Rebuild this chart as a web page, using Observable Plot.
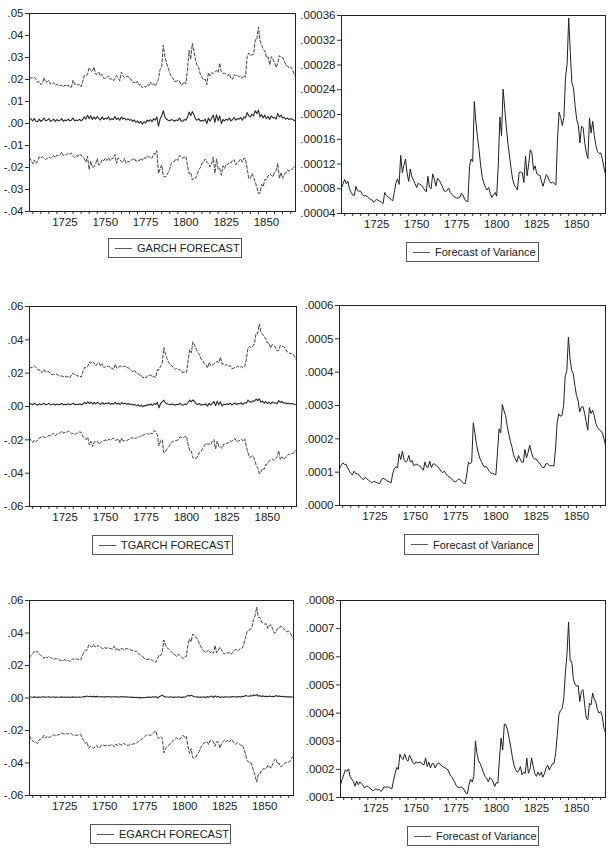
<!DOCTYPE html>
<html><head><meta charset="utf-8">
<script src="https://cdn.jsdelivr.net/npm/d3@7"></script>
<script src="https://cdn.jsdelivr.net/npm/@observablehq/plot@0.6"></script>
<style>
html,body{margin:0;padding:0;background:#fff;}
#page{position:relative;width:609px;height:857px;overflow:hidden;background:#fff;font-family:"Liberation Sans",Arial,sans-serif;}
#page svg{position:absolute;overflow:visible;}
.legend{position:absolute;box-sizing:border-box;border:1px solid #555;background:#fff;font-size:11px;color:#222;display:flex;align-items:center;white-space:nowrap;}
.legend .sw{display:inline-block;width:17px;height:1px;background:#555;margin:0 5px 0 6px;}
</style></head><body><div id="page"></div><script>
// ---------- data (annual, 1703–1868) ----------
const startYear = 1703, endYear = 1868;
const minorTicks = [1705,1710,1715,1720,1725,1730,1735,1740,1745,1750,1755,1760,1765,1770,1775,1780,1785,1790,1795,1800,1805,1810,1815,1820,1825,1830,1835,1840,1845,1850,1855,1860,1865];
const yearLabels = [1725,1750,1775,1800,1825,1850];

// mean forecasts
const garchMean = [
2.5e-3,2.0e-3,1.2e-3,2.2e-3,1.0e-3,0.8e-3,2.0e-3,1.0e-3,1.5e-3,2.5e-3,
1.2e-3,1.5e-3,2.2e-3,1.0e-3,1.4e-3,2.0e-3,1.0e-3,1.8e-3,1.2e-3,1.5e-3,
2.2e-3,1.0e-3,1.6e-3,1.3e-3,2.0e-3,1.2e-3,1.5e-3,2.5e-3,1.2e-3,1.6e-3,
1.3e-3,2.0e-3,1.2e-3,1.8e-3,3.0e-3,2.0e-3,3.8e-3,2.2e-3,3.5e-3,1.8e-3,
3.0e-3,2.0e-3,3.2e-3,2.2e-3,1.6e-3,3.0e-3,1.8e-3,2.4e-3,2.0e-3,3.0e-3,
1.6e-3,2.2e-3,1.8e-3,3.2e-3,1.8e-3,2.6e-3,1.5e-3,3.0e-3,2.0e-3,2.5e-3,
1.6e-3,2.2e-3,1.5e-3,1.8e-3,1.0e-3,1.6e-3,0.5e-3,1.2e-3,0.2e-3,1.0e-3,
-0.3e-3,0.8e-3,0.3e-3,1.5e-3,1.0e-3,1.8e-3,0.8e-3,2.2e-3,1.5e-3,3.0e-3,
-1.2e-3,2.0e-3,3.5e-3,5.8e-3,3.0e-3,2.0e-3,1.5e-3,1.2e-3,1.8e-3,1.5e-3,
1.0e-3,1.6e-3,1.3e-3,2.5e-3,1.2e-3,1.0e-3,1.8e-3,1.5e-3,2.8e-3,5.2e-3,
3.5e-3,5.4e-3,4.0e-3,2.0e-3,1.5e-3,2.2e-3,1.0e-3,1.5e-3,1.2e-3,2.0e-3,
0.0,2.5e-3,1.0e-3,2.5e-3,3.8e-3,0.5e-3,4.0e-3,1.2e-3,3.5e-3,0.0,
1.8e-3,1.2e-3,2.0e-3,1.5e-3,2.5e-3,1.2e-3,1.8e-3,2.8e-3,1.5e-3,2.2e-3,
2.0e-3,2.8e-3,1.5e-3,3.0e-3,2.5e-3,5.0e-3,3.5e-3,3.0e-3,4.2e-3,3.5e-3,
5.8e-3,4.5e-3,6.0e-3,3.0e-3,4.0e-3,2.5e-3,3.8e-3,2.2e-3,3.2e-3,1.8e-3,
3.5e-3,2.5e-3,2.8e-3,2.0e-3,4.6e-3,3.0e-3,3.8e-3,2.5e-3,2.8e-3,2.0e-3,
2.5e-3,1.8e-3,2.2e-3,2.0e-3,1.5e-3,1.2e-3];

const tgarchMean = [
2.0e-3,1.5e-3,1.0e-3,2.0e-3,1.2e-3,0.8e-3,1.6e-3,1.0e-3,1.4e-3,2.0e-3,
1.0e-3,1.3e-3,1.8e-3,1.0e-3,1.2e-3,1.6e-3,0.9e-3,1.5e-3,1.0e-3,1.3e-3,
1.8e-3,1.0e-3,1.4e-3,1.1e-3,1.6e-3,1.0e-3,1.3e-3,2.0e-3,1.0e-3,1.4e-3,
1.1e-3,1.6e-3,1.0e-3,1.5e-3,2.5e-3,1.6e-3,2.8e-3,1.8e-3,2.6e-3,1.5e-3,
2.4e-3,1.6e-3,2.5e-3,1.8e-3,1.3e-3,2.4e-3,1.4e-3,2.0e-3,1.6e-3,2.4e-3,
1.3e-3,1.8e-3,1.5e-3,2.5e-3,1.4e-3,2.0e-3,1.2e-3,2.4e-3,1.6e-3,2.0e-3,
1.3e-3,1.8e-3,1.2e-3,1.5e-3,0.8e-3,1.3e-3,0.5e-3,1.0e-3,0.2e-3,0.8e-3,
-0.2e-3,0.6e-3,0.3e-3,1.2e-3,0.8e-3,1.5e-3,0.6e-3,1.8e-3,1.2e-3,2.5e-3,
-0.8e-3,1.8e-3,2.8e-3,3.8e-3,2.2e-3,1.6e-3,1.2e-3,1.0e-3,1.5e-3,1.2e-3,
0.8e-3,1.3e-3,1.0e-3,2.0e-3,1.0e-3,0.8e-3,1.5e-3,1.2e-3,2.4e-3,3.8e-3,
2.8e-3,4.0e-3,3.0e-3,1.6e-3,1.2e-3,1.8e-3,0.8e-3,1.2e-3,1.0e-3,1.6e-3,
0.2e-3,2.0e-3,0.8e-3,2.0e-3,3.0e-3,0.5e-3,3.2e-3,1.0e-3,2.8e-3,0.2e-3,
1.5e-3,1.0e-3,1.6e-3,1.2e-3,2.0e-3,1.0e-3,1.5e-3,2.2e-3,1.2e-3,1.8e-3,
1.6e-3,2.2e-3,1.2e-3,2.4e-3,2.0e-3,3.8e-3,2.8e-3,2.5e-3,3.4e-3,3.0e-3,
4.5e-3,3.6e-3,4.6e-3,2.5e-3,3.2e-3,2.0e-3,3.0e-3,1.8e-3,2.6e-3,1.5e-3,
2.8e-3,2.0e-3,2.2e-3,1.6e-3,3.6e-3,2.4e-3,3.0e-3,2.0e-3,2.2e-3,1.6e-3,
2.0e-3,1.5e-3,1.8e-3,1.6e-3,1.2e-3,1.0e-3];

const egarchMean = [
0.8e-3,0.6e-3,0.5e-3,0.7e-3,0.5e-3,0.4e-3,0.6e-3,0.5e-3,0.6e-3,0.7e-3,
0.5e-3,0.6e-3,0.7e-3,0.5e-3,0.6e-3,0.6e-3,0.4e-3,0.6e-3,0.5e-3,0.5e-3,
0.7e-3,0.5e-3,0.6e-3,0.5e-3,0.6e-3,0.4e-3,0.5e-3,0.7e-3,0.5e-3,0.6e-3,
0.5e-3,0.6e-3,0.5e-3,0.6e-3,0.9e-3,0.7e-3,1.2e-3,0.8e-3,1.1e-3,0.7e-3,
1.0e-3,0.7e-3,1.0e-3,0.8e-3,0.6e-3,0.9e-3,0.6e-3,0.8e-3,0.7e-3,0.9e-3,
0.6e-3,0.8e-3,0.6e-3,0.9e-3,0.6e-3,0.8e-3,0.5e-3,0.9e-3,0.7e-3,0.8e-3,
0.6e-3,0.7e-3,0.5e-3,0.6e-3,0.4e-3,0.5e-3,0.3e-3,0.5e-3,0.2e-3,0.4e-3,
0.1e-3,0.3e-3,0.2e-3,0.5e-3,0.4e-3,0.6e-3,0.3e-3,0.7e-3,0.5e-3,0.9e-3,
0.0,0.8e-3,1.2e-3,1.8e-3,1.0e-3,0.7e-3,0.6e-3,0.5e-3,0.7e-3,0.6e-3,
0.4e-3,0.6e-3,0.5e-3,0.8e-3,0.5e-3,0.4e-3,0.6e-3,0.5e-3,1.0e-3,1.6e-3,
1.2e-3,1.7e-3,1.3e-3,0.8e-3,0.6e-3,0.8e-3,0.4e-3,0.6e-3,0.5e-3,0.7e-3,
0.2e-3,0.9e-3,0.4e-3,0.9e-3,1.2e-3,0.3e-3,1.3e-3,0.5e-3,1.1e-3,0.2e-3,
0.7e-3,0.5e-3,0.7e-3,0.6e-3,0.8e-3,0.5e-3,0.7e-3,0.9e-3,0.6e-3,0.8e-3,
0.7e-3,0.9e-3,0.6e-3,1.0e-3,0.9e-3,1.5e-3,1.2e-3,1.1e-3,1.4e-3,1.2e-3,
1.8e-3,1.5e-3,2.0e-3,1.2e-3,1.4e-3,1.0e-3,1.3e-3,0.9e-3,1.1e-3,0.8e-3,
1.2e-3,0.9e-3,1.0e-3,0.8e-3,1.5e-3,1.0e-3,1.3e-3,0.9e-3,1.0e-3,0.8e-3,
0.9e-3,0.7e-3,0.8e-3,0.7e-3,0.6e-3,0.5e-3];

// conditional variance forecasts
const garchVar = [
8.1e-5,8.8e-5,9.5e-5,8.8e-5,9.2e-5,8.0e-5,7.4e-5,7.0e-5,6.9e-5,8.4e-5,
7.7e-5,7.6e-5,7.6e-5,7.1e-5,6.8e-5,6.9e-5,6.8e-5,6.5e-5,6.3e-5,6.2e-5,
5.8e-5,6.1e-5,6.3e-5,6.1e-5,6.0e-5,5.8e-5,5.6e-5,7.4e-5,6.9e-5,6.7e-5,
6.5e-5,6.3e-5,6.0e-5,7.4e-5,8.9e-5,9.6e-5,8.7e-5,13.4e-5,10.6e-5,11.8e-5,
12.8e-5,10.5e-5,9.2e-5,11.2e-5,9.9e-5,9.4e-5,8.8e-5,8.2e-5,8.9e-5,8.7e-5,
8.6e-5,8.2e-5,7.8e-5,7.5e-5,10.0e-5,8.3e-5,8.0e-5,10.4e-5,9.6e-5,8.4e-5,
9.7e-5,9.4e-5,8.9e-5,8.4e-5,7.7e-5,7.5e-5,7.8e-5,8.1e-5,7.4e-5,7.1e-5,
6.8e-5,6.6e-5,6.5e-5,6.5e-5,6.6e-5,7.3e-5,6.9e-5,6.3e-5,6.0e-5,5.9e-5,
11.6e-5,12.8e-5,12.4e-5,22.1e-5,18.8e-5,16.3e-5,14.2e-5,11.7e-5,9.8e-5,8.9e-5,
8.2e-5,7.8e-5,8.2e-5,7.2e-5,6.6e-5,7.0e-5,7.4e-5,6.8e-5,12.0e-5,19.6e-5,
16.6e-5,24.1e-5,21.0e-5,18.0e-5,15.4e-5,13.3e-5,11.2e-5,9.5e-5,8.6e-5,8.2e-5,
7.8e-5,10.6e-5,10.7e-5,10.6e-5,9.0e-5,13.3e-5,10.1e-5,12.0e-5,14.3e-5,13.8e-5,
11.0e-5,11.7e-5,10.5e-5,10.2e-5,10.2e-5,9.2e-5,8.4e-5,9.4e-5,10.3e-5,9.9e-5,
9.2e-5,8.9e-5,9.1e-5,8.8e-5,8.6e-5,16.0e-5,20.4e-5,19.5e-5,18.2e-5,19.5e-5,
26.0e-5,28.1e-5,35.6e-5,30.0e-5,25.1e-5,24.3e-5,21.4e-5,19.2e-5,18.3e-5,15.4e-5,
18.1e-5,17.9e-5,15.5e-5,13.8e-5,12.9e-5,19.4e-5,17.0e-5,18.9e-5,16.6e-5,15.0e-5,
14.0e-5,13.7e-5,13.8e-5,12.8e-5,11.5e-5,10.3e-5];

const tgarchVar = [
11.0e-5,12.0e-5,12.8e-5,12.3e-5,12.4e-5,11.3e-5,10.5e-5,9.6e-5,9.2e-5,10.3e-5,
9.6e-5,9.5e-5,9.2e-5,8.6e-5,8.0e-5,7.8e-5,8.5e-5,8.0e-5,7.6e-5,7.2e-5,
6.8e-5,7.2e-5,7.1e-5,6.9e-5,6.7e-5,6.6e-5,7.8e-5,8.2e-5,7.9e-5,7.6e-5,
7.3e-5,7.1e-5,6.8e-5,9.5e-5,11.0e-5,11.6e-5,11.3e-5,15.5e-5,13.8e-5,16.3e-5,
13.9e-5,13.0e-5,13.5e-5,15.0e-5,13.0e-5,13.5e-5,12.0e-5,12.2e-5,12.4e-5,12.0e-5,
11.8e-5,11.2e-5,10.6e-5,13.0e-5,11.5e-5,11.5e-5,13.3e-5,11.4e-5,12.5e-5,12.4e-5,
12.0e-5,11.7e-5,11.0e-5,10.2e-5,9.9e-5,10.3e-5,9.6e-5,9.0e-5,8.6e-5,8.2e-5,
7.7e-5,7.3e-5,7.1e-5,7.5e-5,8.0e-5,7.6e-5,7.2e-5,6.6e-5,6.6e-5,9.5e-5,
13.0e-5,12.5e-5,13.0e-5,24.8e-5,21.6e-5,18.3e-5,16.0e-5,14.2e-5,13.2e-5,12.2e-5,
11.5e-5,11.7e-5,11.0e-5,10.2e-5,9.6e-5,9.7e-5,9.4e-5,9.2e-5,16.0e-5,23.0e-5,
21.8e-5,30.3e-5,28.5e-5,27.0e-5,24.0e-5,21.5e-5,19.3e-5,17.5e-5,15.2e-5,14.0e-5,
13.0e-5,15.0e-5,14.0e-5,13.0e-5,13.0e-5,16.8e-5,14.3e-5,16.0e-5,18.1e-5,16.0e-5,
14.5e-5,13.9e-5,14.0e-5,13.2e-5,12.8e-5,12.0e-5,11.4e-5,11.4e-5,12.5e-5,12.6e-5,
12.0e-5,11.9e-5,12.0e-5,11.8e-5,17.0e-5,24.8e-5,27.5e-5,26.8e-5,27.0e-5,30.0e-5,
38.8e-5,40.4e-5,50.5e-5,44.0e-5,40.6e-5,39.5e-5,36.0e-5,33.0e-5,31.4e-5,28.1e-5,
29.5e-5,29.7e-5,27.8e-5,25.2e-5,22.6e-5,29.4e-5,27.6e-5,28.6e-5,27.0e-5,24.6e-5,
23.5e-5,22.8e-5,22.4e-5,21.8e-5,20.1e-5,18.1e-5];

const egarchVar = [
14.5e-5,16.5e-5,18.0e-5,19.8e-5,19.3e-5,20.2e-5,17.5e-5,16.6e-5,15.7e-5,14.0e-5,
15.8e-5,14.5e-5,15.5e-5,15.0e-5,14.3e-5,13.4e-5,14.0e-5,14.0e-5,13.4e-5,13.1e-5,
12.4e-5,12.6e-5,13.2e-5,12.6e-5,13.0e-5,12.2e-5,12.5e-5,13.8e-5,13.6e-5,13.8e-5,
13.7e-5,13.3e-5,13.1e-5,16.0e-5,18.5e-5,20.7e-5,20.0e-5,25.4e-5,24.0e-5,23.5e-5,
25.5e-5,23.6e-5,22.9e-5,25.0e-5,23.8e-5,22.4e-5,21.9e-5,22.7e-5,22.3e-5,22.6e-5,
22.5e-5,21.8e-5,21.6e-5,24.0e-5,21.0e-5,22.5e-5,20.5e-5,22.0e-5,22.0e-5,20.5e-5,
21.8e-5,22.2e-5,21.9e-5,21.2e-5,20.9e-5,20.6e-5,20.2e-5,19.8e-5,18.3e-5,17.5e-5,
16.6e-5,15.6e-5,14.3e-5,13.6e-5,13.5e-5,13.8e-5,13.5e-5,12.7e-5,11.6e-5,11.3e-5,
14.5e-5,16.5e-5,15.5e-5,17.5e-5,30.1e-5,25.5e-5,23.0e-5,22.0e-5,20.5e-5,18.8e-5,
17.5e-5,16.9e-5,15.6e-5,17.1e-5,16.5e-5,15.5e-5,13.9e-5,15.3e-5,15.1e-5,24.0e-5,
31.1e-5,26.9e-5,36.1e-5,35.8e-5,34.0e-5,31.0e-5,28.0e-5,24.3e-5,21.5e-5,20.0e-5,
19.0e-5,19.5e-5,21.0e-5,18.1e-5,19.0e-5,18.5e-5,24.0e-5,18.6e-5,20.0e-5,24.0e-5,
21.0e-5,18.5e-5,17.5e-5,19.0e-5,17.8e-5,19.0e-5,17.2e-5,18.5e-5,20.5e-5,21.5e-5,
19.8e-5,21.0e-5,22.0e-5,22.2e-5,26.0e-5,32.3e-5,39.5e-5,41.0e-5,41.5e-5,45.0e-5,
54.0e-5,60.7e-5,72.3e-5,58.6e-5,58.3e-5,52.0e-5,50.3e-5,49.5e-5,49.8e-5,44.1e-5,
47.7e-5,48.3e-5,43.2e-5,38.2e-5,37.6e-5,43.5e-5,42.9e-5,47.1e-5,45.0e-5,43.9e-5,
41.2e-5,40.0e-5,40.6e-5,38.8e-5,34.6e-5,33.0e-5];

// axis ticks
const garchFcTicks  = [-0.04,-0.03,-0.02,-0.01,0,0.01,0.02,0.03,0.04,0.05];
const garchVarTicks = [0.00004,0.00008,0.00012,0.00016,0.0002,0.00024,0.00028,0.00032,0.00036];
const tgarchFcTicks = [-0.06,-0.04,-0.02,0,0.02,0.04,0.06];
const tgarchVarTicks = [0,0.0001,0.0002,0.0003,0.0004,0.0005,0.0006];
const egarchFcTicks = [-0.06,-0.04,-0.02,0,0.02,0.04,0.06];
const egarchVarTicks = [0.0001,0.0002,0.0003,0.0004,0.0005,0.0006,0.0007,0.0008];
const legendLabels = ["GARCH FORECAST","Forecast of Variance","TGARCH FORECAST","Forecast of Variance","EGARCH FORECAST","Forecast of Variance"];

// ---------- drawing ----------
const page = document.getElementById("page");
const years = d3.range(startYear, endYear + 1);
const fmt = (v, d) => (Math.abs(v) < 1e-12 ? (0).toFixed(d) : v.toFixed(d)).replace(/^(-?)0\./, "$1.");

function drawPanel({frame, mL, yDomain, yTicks, dec, marks}) {
  const mT = 8, mR = 6, mB = 26;
  const w = frame[2] - frame[0], h = frame[3] - frame[1];
  const svg = Plot.plot({
    width: mL + w + mR, height: mT + h + mB,
    marginLeft: mL, marginRight: mR, marginTop: mT, marginBottom: mB,
    style: {fontFamily: '"Liberation Sans", Arial, sans-serif', fontSize: "11.5px", color: "#222", background: "none"},
    x: {domain: [startYear, endYear], label: null},
    y: {domain: yDomain, label: null},
    marks: [
      Plot.axisX({ticks: minorTicks, tickSize: 3, tickFormat: () => "", label: null, stroke: "#333"}),
      Plot.axisX({ticks: yearLabels, tickSize: 0, tickPadding: 6, tickFormat: d => String(d), label: null, fill: "#222"}),
      Plot.axisY({ticks: yTicks, tickSize: 4, tickPadding: 2, tickFormat: v => fmt(v, dec), label: null, stroke: "#333", fill: "#222"}),
      ...marks,
      Plot.frame({stroke: "#222", strokeWidth: 1})
    ]
  });
  svg.style.left = (frame[0] - mL) + "px";
  svg.style.top = (frame[1] - mT) + "px";
  page.appendChild(svg);
}

function forecastMarks(mean, variance) {
  const rows = years.map((year, i) => ({year, f: mean[i], up: mean[i] + 2 * Math.sqrt(variance[i]), lo: mean[i] - 2 * Math.sqrt(variance[i])}));
  return [
    Plot.lineY(rows, {x: "year", y: "up", stroke: "#444", strokeWidth: 1, strokeDasharray: "3,2"}),
    Plot.lineY(rows, {x: "year", y: "lo", stroke: "#444", strokeWidth: 1, strokeDasharray: "3,2"}),
    Plot.lineY(rows, {x: "year", y: "f", stroke: "#2a2a2a", strokeWidth: 1.1})
  ];
}
function varianceMarks(variance) {
  const rows = years.map((year, i) => ({year, v: variance[i]}));
  return [Plot.lineY(rows, {x: "year", y: "v", stroke: "#222", strokeWidth: 1})];
}
function legend(label, box) {
  const d = document.createElement("div");
  d.className = "legend";
  d.style.left = box[0] + "px"; d.style.top = box[1] + "px";
  d.style.width = box[2] + "px"; d.style.height = box[3] + "px";
  const sw = document.createElement("span"); sw.className = "sw";
  const t = document.createElement("span"); t.textContent = label;
  d.append(sw, t);
  page.appendChild(d);
}

drawPanel({frame: [29, 13, 295, 211], mL: 34, yDomain: [-0.04, 0.05], yTicks: garchFcTicks, dec: 2, marks: forecastMarks(garchMean, garchVar)});
drawPanel({frame: [341, 15, 605, 213], mL: 44, yDomain: [0.00004, 0.00036], yTicks: garchVarTicks, dec: 5, marks: varianceMarks(garchVar)});
drawPanel({frame: [29, 306, 296, 506], mL: 34, yDomain: [-0.06, 0.06], yTicks: tgarchFcTicks, dec: 2, marks: forecastMarks(tgarchMean, tgarchVar)});
drawPanel({frame: [339, 305, 605, 505], mL: 44, yDomain: [0, 0.0006], yTicks: tgarchVarTicks, dec: 4, marks: varianceMarks(tgarchVar)});
drawPanel({frame: [29, 600, 293, 795], mL: 34, yDomain: [-0.06, 0.06], yTicks: egarchFcTicks, dec: 2, marks: forecastMarks(egarchMean, egarchVar)});
drawPanel({frame: [340, 600, 605, 797], mL: 44, yDomain: [0.0001, 0.0008], yTicks: egarchVarTicks, dec: 4, marks: varianceMarks(egarchVar)});

legend(legendLabels[0], [108, 238, 134, 20]);
legend(legendLabels[1], [406, 242, 133, 20]);
legend(legendLabels[2], [92, 535, 141, 20]);
legend(legendLabels[3], [404, 534, 135, 21]);
legend(legendLabels[4], [90, 824, 141, 20]);
legend(legendLabels[5], [407, 826, 132, 20]);
</script></body></html>
